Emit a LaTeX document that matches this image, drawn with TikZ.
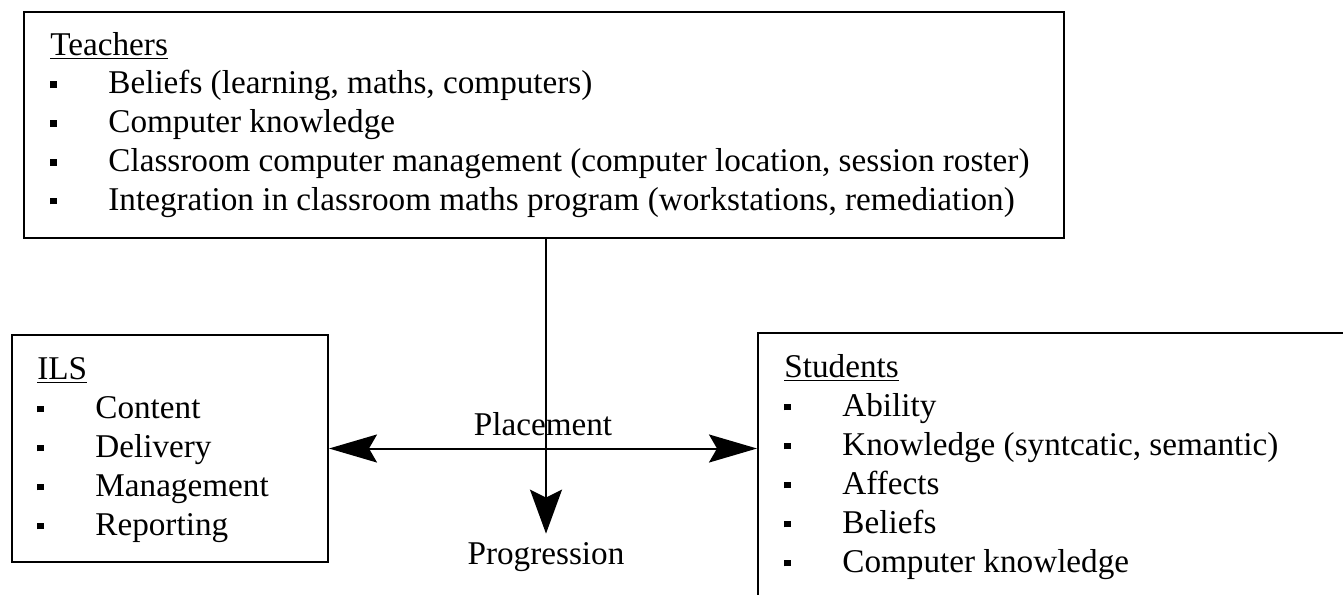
\documentclass[tikz,border=0pt]{standalone}
\usepackage{fontspec}
\setmainfont{Liberation Serif}
\usepackage{tikz}
\usetikzlibrary{arrows.meta,positioning}
\tikzstyle{box}   =[rectangle, draw, line width=1pt, inner sep=0pt,
                    anchor=north west]
\tikzstyle{txt}   =[font=\fontsize{16.6}{19.5}\selectfont, inner sep=0pt,
                    anchor=base west]
\tikzstyle{conn}  =[>={Stealth[length=24pt,width=14pt,inset=4pt]},
                    line width=1pt]
\newcommand{\sqbul}{\makebox[29pt][l]{\rule[2.8pt]{3.4pt}{3.4pt}}}

\begin{document}
\begin{tikzpicture}[x=0.5pt,y=-0.5pt]
    \useasboundingbox (0,0) rectangle (1343,594);
    \clip (0,0) rectangle (1343,594);

    % the three boxes
    \draw (23,11) node (teachers) [box, minimum width=520pt, minimum height=113pt] {};
    \draw (11,334) node (ils) [box, minimum width=158pt, minimum height=113.5pt] {};
    \draw (757,332) node (students) [box, minimum width=320pt, minimum height=150pt] {};

    \draw (50,55) node (teachershead) [txt] {\underline{Teachers}};
    \foreach \t [count=\i] in {{Beliefs (learning, maths,  computers)},
        {Computer knowledge},
        {Classroom computer management (computer location, session roster)},
        {Integration in classroom maths program (workstations, remediation)}}
        \draw (50,{55+38.75*\i}) node (teachers\i) [txt] {\sqbul\t};

    \draw (37,379) node (ilshead) [txt] {\underline{ILS}};
    \foreach \t [count=\i] in {Content,Delivery,Management,Reporting}
        \draw (37,{379+39*\i}) node (ils\i) [txt] {\sqbul\t};

    \draw (784,377) node (studentshead) [txt] {\underline{Students}};
    \foreach \t [count=\i] in {Ability,{Knowledge (syntcatic, semantic)},
        Affects,Beliefs,{Computer knowledge}}
        \draw (784,{377+39*\i}) node (students\i) [txt] {\sqbul\t};

    % arrows
    \draw (546,564) node (progression) [txt, anchor=base, inner sep=4pt] {Progression};
    \draw [conn,<->] (ils.east) -- (ils.east -| students.west)
        node (placement) [txt, midway, anchor=south, inner sep=6pt] {Placement};
    \draw [conn,-{Stealth[length=22pt,width=16pt,inset=4pt]}]
        (teachers.south -| progression.north) -- (progression.north);

\end{tikzpicture}
\end{document}
